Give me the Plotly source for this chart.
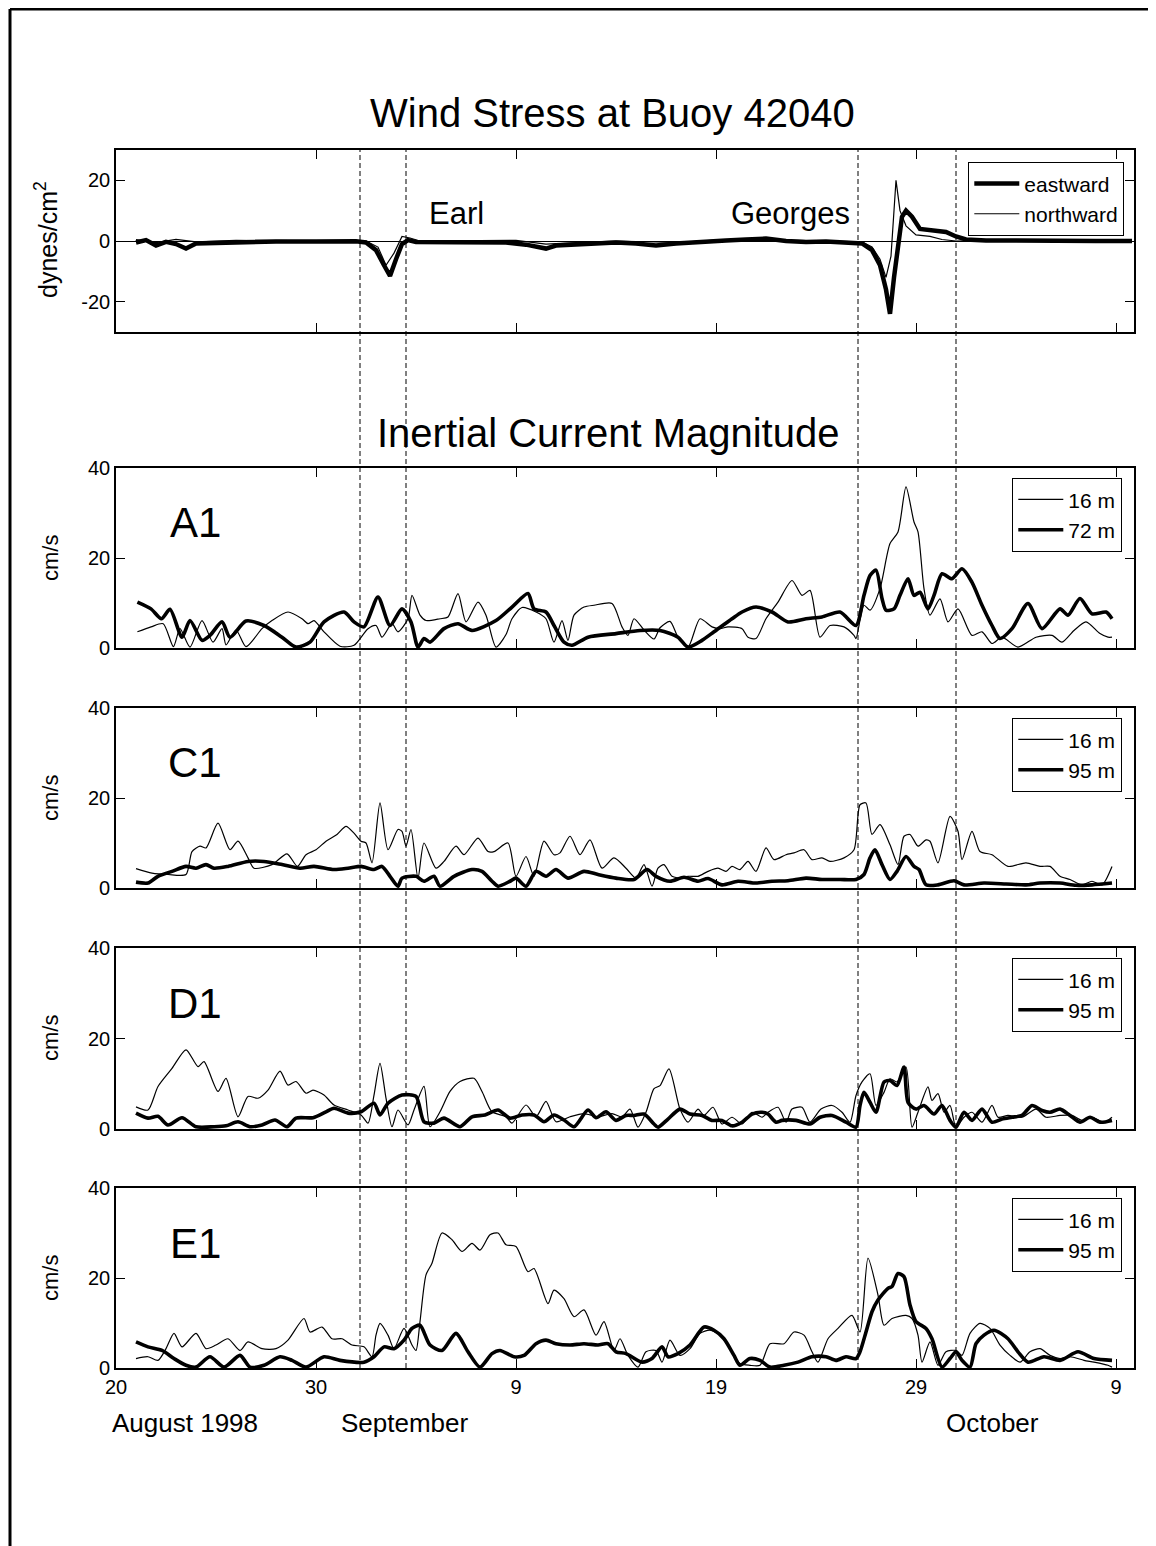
import pandas as pd
import plotly.graph_objects as go
from plotly.subplots import make_subplots

START = pd.Timestamp("1998-08-20")

# wind stress at buoy 42040 (dynes/cm2), time in days since Aug 20
wind_days = [1.0, 1.5, 2.0, 2.5, 3.0, 3.5, 4.0, 5.0, 6.0, 8.0, 10.0, 12.0, 12.5, 13.0, 13.4, 13.7, 14.0,
             14.3, 14.6, 15.0, 17.0, 18.5, 19.5, 20.5, 21.5, 22.0, 23.0, 24.0, 25.0, 26.0, 27.0, 28.0,
             29.0, 30.5, 31.5, 32.5, 33.5, 34.5, 35.5, 36.5, 37.3, 37.8, 38.2, 38.5, 38.7, 38.9, 39.1,
             39.3, 39.5, 39.8, 40.2, 40.8, 41.5, 42.0, 42.5, 43.5, 45.0, 47.0, 49.0, 50.8]
eastward = [-0.5, 0.3, -1.5, -0.3, -1.0, -2.5, -0.8, -0.6, -0.4, -0.2, -0.2, -0.1, -0.5, -3.0, -8.0,
            -11.5, -6.0, -1.0, 0.3, -0.3, -0.4, -0.6, -0.5, -1.2, -2.5, -1.5, -1.2, -1.0, -0.5, -0.8,
            -1.5, -0.8, -0.3, 0.2, 0.5, 0.8, 0.0, -0.3, -0.2, -0.6, -0.8, -3.0, -8.0, -16.0, -24.0,
            -12.0, -2.0, 8.0, 10.0, 8.0, 4.0, 3.5, 3.0, 1.5, 0.5, 0.2, 0.0, 0.1, 0.0, 0.0]

north_days = [1.0, 2.0, 3.0, 4.0, 6.0, 10.0, 12.5, 13.1, 13.5, 13.9, 14.3, 14.7, 15.2, 20.0, 21.5, 23.0,
              25.0, 28.0, 30.0, 32.0, 35.0, 37.3, 37.8, 38.2, 38.5, 38.75, 39.0, 39.2, 39.5, 40.0,
              40.7, 41.3, 42.0, 45.0, 50.8]
northward = [0.5, -0.5, 0.5, -0.3, 0.2, 0.0, 0.0, -2.0, -8.0, -4.0, 1.5, 1.0, 0.0, 0.2, -1.0, -0.5,
             0.0, -0.5, 0.3, 0.5, 0.0, -0.3, -2.0, -6.0, -12.0, -5.0, 20.0, 10.0, 5.0, 2.0, 1.5, 0.5,
             0.0, 0.2, 0.0]

# inertial current magnitude (cm/s)
a1_16_days = [1.07, 1.75, 2.36, 2.87, 3.2, 3.7, 4.3, 4.85, 5.3, 5.5, 6.0, 6.5, 7.3, 7.8, 8.6, 9.3, 9.6,
              9.9, 10.4, 11.2, 11.9, 12.6, 13.0, 13.3, 13.8, 14.1, 14.6, 14.8, 15.2, 15.5, 16.2, 16.6,
              17.1, 17.5, 18.1, 18.5, 19.0, 19.5, 19.8, 20.3, 21.0, 21.5, 21.9, 22.3, 22.6, 22.9, 23.4,
              23.9, 24.8, 25.3, 25.6, 25.9, 26.4, 26.9, 27.2, 27.7, 28.1, 28.6, 29.2, 29.8, 30.2, 30.6,
              31.3, 31.6, 32.0, 32.5, 33.1, 33.8, 34.3, 34.7, 35.2, 35.7, 36.4, 36.9, 37.0, 37.4, 37.7,
              38.2, 38.7, 39.1, 39.5, 39.9, 40.1, 40.4, 40.7, 41.2, 41.6, 42.1, 42.8, 43.3, 43.8, 44.3,
              45.1, 46.0, 46.8, 47.3, 47.9, 48.5, 49.2, 49.6, 49.8]
a1_16 = [3.6, 4.7, 5.4, 0.3, 4.3, 0.2, 6.1, 1.3, 4.3, 0.7, 4.0, 0.3, 4.3, 6.1, 8.0, 6.5, 5.4, 6.1, 3.6,
         0.4, 0.6, 4.3, 5.0, 2.4, 5.4, 3.6, 6.5, 11.7, 7.3, 6.1, 6.5, 6.9, 12.1, 5.8, 10.2, 7.3, 0.2,
         3.0, 6.5, 9.0, 8.0, 6.5, 1.3, 6.1, 1.7, 7.3, 9.1, 9.5, 9.9, 4.7, 2.8, 6.5, 4.0, 2.0, 4.5, 5.9,
         2.4, 0.2, 6.5, 4.7, 4.3, 4.7, 4.3, 2.4, 2.1, 6.5, 10.2, 15.0, 11.7, 12.8, 2.4, 5.0, 4.7, 2.8,
         2.1, 9.5, 8.4, 13.2, 23.2, 25.8, 35.8, 28.0, 25.8, 13.2, 7.3, 10.9, 5.8, 8.7, 2.8, 3.6, 1.0,
         2.4, 0.2, 2.4, 2.8, 1.3, 3.9, 5.8, 3.2, 2.4, 2.4]

a1_72_days = [1.07, 1.75, 2.27, 2.7, 3.3, 3.7, 4.3, 4.7, 5.3, 5.7, 6.5, 7.4, 8.3, 9.0, 9.7, 10.4, 11.4,
              11.9, 12.4, 13.1, 13.7, 14.3, 14.75, 15.1, 15.4, 15.7, 16.4, 17.1, 17.8, 19.0, 19.8,
              20.6, 20.9, 21.5, 21.9, 22.4, 22.8, 23.6, 25.0, 26.2, 27.2, 28.1, 28.6, 29.3, 29.9, 30.8,
              31.3, 32.0, 32.8, 33.6, 34.5, 35.3, 36.2, 37.0, 37.4, 37.7, 38.0, 38.3, 38.5, 38.9, 39.2,
              39.6, 39.9, 40.2, 40.6, 40.9, 41.3, 41.8, 42.3, 42.8, 43.3, 43.8, 44.2, 44.8, 45.6, 46.3,
              47.2, 47.6, 48.2, 48.8, 49.5, 49.8]
a1_72 = [10.2, 8.7, 6.5, 8.6, 2.4, 6.1, 1.7, 2.8, 5.8, 2.4, 6.0, 5.0, 2.4, 0.2, 1.3, 5.8, 8.0, 5.8, 4.7,
         11.3, 5.0, 8.7, 5.8, 0.2, 2.1, 1.3, 4.3, 5.4, 3.9, 6.1, 9.1, 12.1, 8.7, 8.0, 5.0, 1.3, 0.6,
         2.4, 3.2, 3.9, 3.9, 2.4, 0.2, 1.7, 3.6, 6.5, 8.0, 9.1, 8.0, 5.8, 6.5, 6.9, 8.0, 5.0, 11.7,
         16.1, 17.3, 11.0, 8.4, 8.7, 11.7, 15.4, 11.7, 12.4, 8.7, 11.7, 16.5, 15.4, 17.6, 14.6, 9.5,
         5.0, 2.1, 4.3, 9.9, 4.3, 8.7, 7.3, 11.0, 7.6, 8.0, 6.5]

c1_16_days = [1.0, 1.8, 2.6, 3.5, 3.8, 4.2, 4.5, 5.1, 5.7, 6.1, 6.6, 6.9, 7.8, 8.55, 9.07, 9.5, 10.0,
              10.5, 11.05, 11.5, 11.9, 12.25, 12.5, 12.8, 13.2, 13.6, 14.1, 14.3, 14.5, 14.75, 15.1,
              15.4, 16.0, 16.4, 17.0, 17.4, 18.1, 18.6, 18.9, 19.6, 20.0, 20.5, 20.9, 21.4, 21.9, 22.2,
              22.7, 23.2, 23.7, 24.3, 24.9, 25.5, 26.0, 26.4, 26.8, 27.1, 27.4, 27.8, 28.3, 28.6, 29.1,
              29.6, 30.1, 30.5, 30.8, 31.2, 31.6, 32.0, 32.5, 32.9, 33.5, 33.9, 34.4, 34.8, 35.3, 35.7,
              36.4, 36.9, 37.2, 37.5, 37.8, 38.2, 38.7, 39.1, 39.4, 39.7, 40.1, 40.5, 40.7, 41.1, 41.7,
              42.1, 42.3, 42.8, 43.2, 43.8, 44.6, 45.5, 46.2, 46.7, 47.2, 47.7, 48.3, 48.8, 49.3, 49.8]
c1_16 = [4.3, 3.3, 3.0, 3.0, 8.1, 9.3, 8.9, 14.4, 8.5, 10.4, 6.7, 4.4, 5.2, 7.6, 4.8, 7.4, 8.5, 10.4,
         11.9, 13.7, 12.2, 10.4, 10.0, 5.6, 18.9, 8.5, 13.0, 12.6, 9.3, 13.0, 2.2, 10.0, 4.4, 5.9, 9.3,
         7.4, 11.1, 8.1, 8.1, 10.0, 2.6, 7.0, 2.6, 10.4, 7.4, 7.8, 11.5, 7.4, 10.7, 4.4, 6.7, 4.4, 2.2,
         5.2, 0.4, 4.4, 5.2, 2.6, 2.2, 2.6, 2.6, 3.7, 4.4, 3.7, 4.8, 4.1, 5.9, 3.7, 8.9, 6.3, 7.4, 7.8,
         8.5, 6.3, 6.7, 5.9, 6.7, 8.5, 18.5, 18.9, 11.9, 14.1, 9.6, 5.2, 11.5, 11.9, 9.3, 10.7, 10.4,
         5.6, 15.9, 12.6, 6.3, 12.6, 8.1, 7.4, 4.8, 5.6, 4.8, 4.8, 2.6, 1.9, 0.7, 1.5, 0.7, 4.8]

c1_95_days = [1.0, 1.6, 2.1, 2.8, 3.5, 4.0, 4.5, 4.9, 5.6, 6.6, 7.4, 8.3, 9.2, 9.9, 10.9, 11.6, 12.25,
              12.9, 13.3, 13.7, 14.1, 14.3, 15.0, 15.4, 15.9, 16.2, 16.9, 17.8, 18.3, 18.8, 19.1, 19.7,
              20.0, 20.5, 21.0, 21.5, 22.0, 22.6, 23.4, 24.1, 25.0, 25.9, 26.55, 27.0, 27.7, 28.4, 29.1,
              29.6, 30.3, 31.1, 32.0, 32.8, 33.6, 34.5, 35.3, 36.2, 37.0, 37.4, 37.7, 37.95, 38.3, 38.7,
              39.05, 39.5, 39.9, 40.15, 40.5, 41.1, 41.9, 42.4, 43.4, 44.5, 45.5, 46.2, 47.2, 48.0, 48.8,
              49.8]
c1_95 = [1.3, 1.1, 2.6, 3.7, 4.8, 4.4, 5.2, 4.4, 4.8, 5.9, 5.9, 5.2, 4.4, 4.8, 4.1, 4.4, 4.8, 4.1, 4.8,
         2.6, 0.4, 2.2, 2.6, 1.5, 2.6, 0.4, 2.6, 4.1, 3.7, 1.5, 0.4, 1.5, 2.2, 0.4, 3.7, 2.6, 4.1, 2.2,
         3.7, 3.0, 2.2, 1.9, 4.1, 2.6, 1.5, 2.4, 1.5, 2.1, 0.7, 1.5, 1.1, 1.5, 1.6, 2.2, 1.9, 1.9, 1.9,
         3.0, 6.7, 8.5, 5.2, 1.9, 3.7, 7.0, 4.8, 4.1, 0.7, 0.7, 1.6, 0.7, 1.1, 0.9, 0.7, 1.1, 1.1, 0.6,
         0.7, 1.1]

d1_16_days = [1.0, 1.6, 2.1, 2.8, 3.5, 4.1, 4.4, 5.1, 5.5, 6.1, 6.6, 7.1, 7.6, 8.2, 8.6, 9.0, 9.5, 9.85,
              10.4, 10.9, 11.6, 12.25, 12.6, 12.9, 13.2, 13.5, 13.8, 14.1, 14.6, 14.9, 15.4, 15.7, 16.2,
              16.7, 17.2, 17.9, 18.3, 18.8, 19.5, 19.8, 20.5, 21.0, 21.5, 22.0, 22.7, 23.4, 24.1, 24.8,
              25.3, 25.7, 26.1, 26.5, 26.9, 27.2, 27.65, 28.2, 28.6, 29.1, 29.4, 29.85, 30.3, 30.8, 31.3,
              31.8, 32.3, 32.6, 33.1, 33.5, 33.8, 34.3, 34.7, 35.25, 35.8, 36.3, 36.7, 37.0, 37.3, 37.7,
              38.0, 38.4, 38.7, 39.05, 39.5, 39.8, 40.1, 40.6, 40.8, 41.1, 41.4, 41.7, 42.0, 42.4, 42.8,
              43.3, 43.8, 44.1, 44.6, 45.3, 46.0, 46.5, 47.2, 47.8, 48.3, 48.8, 49.4, 49.8]
d1_16 = [4.9, 4.2, 9.4, 13.4, 17.5, 13.8, 14.9, 8.3, 11.2, 2.7, 7.2, 6.8, 8.6, 12.8, 9.7, 10.5, 7.9,
         8.6, 7.5, 5.3, 4.2, 3.1, 1.3, 7.5, 14.5, 6.8, 0.5, 4.2, 0.9, 4.2, 9.4, 0.5, 3.8, 8.3, 10.5,
         11.2, 8.3, 3.8, 2.7, 1.3, 5.3, 2.7, 6.1, 1.6, 2.7, 3.4, 2.7, 3.4, 2.7, 4.4, 0.4, 3.7, 8.9, 9.6,
         13.3, 4.4, 1.5, 4.4, 3.0, 4.8, 1.1, 2.6, 1.1, 3.7, 2.6, 3.7, 4.8, 1.5, 4.4, 4.8, 1.5, 4.4, 5.2,
         3.7, 1.5, 7.4, 10.4, 12.2, 5.2, 8.1, 11.1, 10.4, 13.7, 0.4, 3.7, 9.3, 6.3, 7.8, 3.7, 5.2, 0.4,
         2.6, 3.7, 1.5, 5.2, 2.6, 3.0, 2.6, 4.4, 2.6, 3.0, 3.0, 1.9, 2.6, 1.5, 2.6]

d1_95_days = [1.0, 1.6, 2.1, 2.6, 3.3, 4.0, 4.9, 5.5, 6.1, 6.7, 7.3, 7.95, 8.55, 9.0, 9.85, 10.5, 10.9,
              11.6, 12.25, 12.9, 13.2, 13.6, 14.3, 15.0, 15.4, 15.9, 16.4, 17.2, 17.8, 18.45, 19.1,
              19.7, 20.3, 20.9, 21.4, 21.9, 22.4, 22.9, 23.6, 24.0, 24.5, 25.0, 25.5, 25.9, 26.4, 26.9,
              27.1, 27.6, 28.2, 28.7, 29.3, 29.8, 30.3, 30.8, 31.3, 31.8, 32.3, 32.6, 33.0, 33.3, 34.0,
              34.7, 35.2, 35.8, 36.5, 37.0, 37.2, 37.4, 37.7, 38.0, 38.4, 38.7, 39.05, 39.4, 39.6, 40.0,
              40.4, 40.9, 41.3, 41.7, 42.0, 42.4, 42.8, 43.3, 43.8, 44.3, 44.8, 45.3, 45.8, 46.3, 46.7,
              47.2, 47.7, 48.2, 48.7, 49.2, 49.8]
d1_95 = [3.5, 2.4, 2.8, 0.9, 2.5, 0.5, 0.5, 0.7, 1.6, 0.5, 0.9, 2.0, 0.5, 2.4, 2.5, 3.8, 4.6, 3.5, 3.8,
         5.7, 3.1, 5.7, 7.5, 7.2, 1.6, 1.3, 2.4, 0.5, 2.7, 3.1, 4.2, 2.4, 3.1, 3.1, 1.6, 3.1, 2.0, 0.5,
         4.2, 2.5, 3.8, 1.9, 3.0, 3.0, 3.3, 1.1, 0.4, 2.2, 4.4, 3.3, 3.0, 1.9, 1.9, 0.7, 1.5, 3.3, 3.7,
         3.3, 1.5, 1.9, 1.9, 1.1, 2.6, 3.0, 1.5, 0.4, 5.2, 8.1, 5.9, 3.7, 10.4, 10.7, 9.6, 13.7, 5.9,
         4.4, 5.2, 3.3, 5.2, 1.9, 0.4, 3.7, 1.9, 4.4, 1.5, 2.2, 2.6, 3.0, 5.2, 4.1, 3.7, 4.4, 3.0, 1.5,
         2.6, 1.5, 1.9]

e1_16_days = [1.0, 1.6, 2.1, 2.5, 2.9, 3.3, 4.0, 4.5, 5.0, 5.6, 6.2, 6.6, 7.3, 8.0, 8.6, 9.4, 9.7, 10.3,
              10.8, 11.3, 11.8, 12.4, 12.8, 13.0, 13.2, 13.6, 13.9, 14.4, 14.8, 15.0, 15.2, 15.5, 15.8,
              16.3, 16.8, 17.3, 17.8, 18.2, 18.7, 19.1, 19.5, 20.0, 20.6, 20.9, 21.6, 21.9, 22.4, 22.9,
              23.4, 24.0, 24.4, 24.9, 25.2, 25.6, 26.1, 26.5, 27.0, 27.3, 27.7, 28.2, 28.7, 29.2, 29.7,
              30.2, 30.7, 31.2, 31.7, 32.2, 32.7, 33.4, 33.9, 34.4, 34.8, 35.1, 35.6, 36.1, 36.8, 37.2,
              37.6, 38.1, 38.4, 38.8, 39.5, 39.8, 40.1, 40.3, 40.7, 41.1, 41.5, 42.0, 42.3, 42.7, 43.2,
              43.7, 44.2, 44.7, 45.2, 45.7, 46.2, 46.7, 47.2, 47.7, 48.4, 48.9, 49.6, 49.8]
e1_16 = [2.1, 2.5, 1.7, 4.3, 7.7, 4.7, 7.7, 4.3, 5.1, 6.5, 3.9, 5.8, 4.3, 4.3, 6.2, 11.0, 8.0, 9.1, 6.5,
         6.5, 5.1, 4.7, 2.5, 7.3, 9.9, 7.3, 4.3, 8.8, 5.1, 3.9, 10.3, 20.7, 23.3, 30.0, 28.5, 25.9, 27.7,
         26.2, 29.6, 30.0, 27.4, 27.0, 21.4, 22.1, 14.3, 17.3, 15.4, 11.4, 12.9, 7.3, 10.3, 3.9, 6.5,
         2.8, 0.2, 3.6, 3.9, 1.3, 6.2, 2.8, 4.3, 7.7, 8.4, 7.3, 4.3, 1.0, 0.6, 0.6, 5.4, 5.4, 8.0, 7.3,
         3.6, 1.3, 6.5, 8.8, 11.7, 8.0, 24.4, 16.2, 9.5, 11.0, 11.7, 11.0, 7.3, 1.3, 5.8, 0.6, 3.6, 3.9,
         2.8, 7.7, 9.9, 8.8, 5.1, 2.8, 1.3, 3.6, 4.3, 2.8, 2.1, 2.5, 1.7, 1.3, 0.6, 0.2]

e1_95_days = [1.0, 1.6, 2.3, 2.9, 3.5, 4.0, 4.7, 5.4, 6.2, 6.7, 7.4, 8.2, 8.8, 9.5, 10.4, 11.2, 12.4,
              12.9, 13.4, 13.9, 14.4, 14.8, 15.2, 15.7, 16.3, 17.0, 17.6, 18.2, 18.8, 19.2, 19.9, 20.4,
              21.0, 21.5, 22.0, 22.7, 23.4, 24.1, 24.6, 25.0, 25.5, 26.3, 26.8, 27.3, 27.6, 28.1, 28.7,
              29.4, 29.9, 30.4, 30.9, 31.2, 31.7, 32.2, 32.7, 33.4, 34.1, 34.8, 35.5, 36.0, 36.5, 37.0,
              37.2, 37.5, 37.8, 38.1, 38.6, 38.8, 39.1, 39.4, 39.7, 40.0, 40.5, 40.8, 41.3, 41.7, 42.0,
              42.3, 42.7, 43.0, 43.4, 43.9, 44.6, 45.1, 45.6, 46.4, 47.2, 48.1, 48.9, 49.8]
e1_95 = [5.8, 4.7, 3.9, 2.1, 0.6, 0.2, 2.5, 0.2, 2.8, 0.2, 0.6, 2.5, 1.7, 0.2, 2.5, 1.7, 1.3, 2.5, 4.7,
         4.3, 6.2, 8.8, 9.5, 5.1, 3.9, 7.7, 3.6, 0.2, 3.2, 3.9, 2.5, 2.8, 5.4, 6.2, 5.4, 5.1, 5.4, 5.1,
         5.4, 3.6, 3.2, 1.3, 2.1, 4.7, 2.5, 3.2, 5.1, 9.1, 8.4, 6.5, 2.8, 0.6, 2.1, 1.7, 0.2, 0.6, 1.3,
         2.5, 2.5, 1.7, 2.5, 2.1, 3.6, 8.0, 12.5, 15.1, 17.7, 18.1, 21.0, 20.3, 14.0, 10.3, 8.8, 6.5,
         0.2, 2.1, 3.6, 1.7, 0.2, 5.4, 7.3, 8.4, 6.5, 3.6, 1.3, 2.5, 1.7, 3.6, 2.1, 1.7]

storm_days = [12.2, 14.5, 37.1, 42.0]  # dashed markers, Earl and Georges
tick_days = [0, 10, 20, 30, 40, 50]
tick_text = ["20", "30", "9", "19", "29", "9"]


def to_dates(days):
    return START + pd.to_timedelta(days, unit="D")


FONT = "Liberation Sans, Arial, sans-serif"
THIN = 1.2
THICK = 3.6
OFF = 8  # page margin of the html body

fig = make_subplots(rows=5, cols=1, shared_xaxes=True)

fig.add_trace(go.Scatter(x=to_dates(wind_days), y=eastward, mode="lines", name="eastward",
                         line=dict(color="black", width=4.5), legend="legend"), row=1, col=1)
fig.add_trace(go.Scatter(x=to_dates(north_days), y=northward, mode="lines", name="northward",
                         line=dict(color="black", width=THIN), legend="legend"), row=1, col=1)

panels = [
    ("A1", "72 m", a1_16_days, a1_16, a1_72_days, a1_72),
    ("C1", "95 m", c1_16_days, c1_16, c1_95_days, c1_95),
    ("D1", "95 m", d1_16_days, d1_16, d1_95_days, d1_95),
    ("E1", "95 m", e1_16_days, e1_16, e1_95_days, e1_95),
]
for i, (label, deep, sd, sv, dd, dv) in enumerate(panels):
    leg = "legend%d" % (i + 2)
    fig.add_trace(go.Scatter(x=to_dates(sd), y=sv, mode="lines", name="16 m",
                             line=dict(color="black", width=THIN, shape="spline", smoothing=0.7),
                             legend=leg), row=i + 2, col=1)
    fig.add_trace(go.Scatter(x=to_dates(dd), y=dv, mode="lines", name=deep,
                             line=dict(color="black", width=THICK, shape="spline", smoothing=0.7),
                             legend=leg), row=i + 2, col=1)

# panel placement (page pixels -> paper)
H_TOP, H_BOT = 150, 1368
def py(v):
    return (H_BOT - v) / (H_BOT - H_TOP)

def px_x(v):
    return (v - 116) / 1018

domains = [(332, 150), (648, 468), (888, 708), (1129, 948), (1368, 1188)]

axis_common = dict(showline=True, linecolor="black", linewidth=1.6, mirror="ticks", ticks="inside",
                   ticklen=9, tickwidth=1.3, tickcolor="black", showgrid=False,
                   tickfont=dict(family=FONT, size=20, color="black"))

for i, (b, t) in enumerate(domains):
    n = "" if i == 0 else str(i + 1)
    fig.layout["yaxis" + n].update(domain=[py(b), py(t)], **axis_common)
    fig.layout["xaxis" + n].update(
        range=[START, START + pd.Timedelta(days=50.9)],
        tickvals=to_dates(tick_days), ticktext=tick_text,
        showticklabels=(i == 4), **axis_common)

fig.layout.yaxis.update(range=[-30, 30], tickvals=[-20, 0, 20], ticktext=["-20", "0", "20"],
                        zeroline=True, zerolinecolor="black", zerolinewidth=1)
for n in ["2", "3", "4", "5"]:
    fig.layout["yaxis" + n].update(range=[0, 40], tickvals=[0, 20, 40], zeroline=False)

# dashed storm lines through all panels
for d in storm_days:
    fig.add_shape(type="line", xref="x5", yref="paper", x0=to_dates([d])[0], x1=to_dates([d])[0],
                  y0=0, y1=1, line=dict(color="black", width=1, dash="5px,3px"))

# page frame
fig.add_shape(type="line", xref="paper", yref="paper", x0=px_x(10), x1=px_x(10), y0=py(9), y1=py(1546),
              line=dict(color="black", width=3))
fig.add_shape(type="line", xref="paper", yref="paper", x0=px_x(10), x1=px_x(1156), y0=py(9), y1=py(9),
              line=dict(color="black", width=3))

ann = []
def text(x, y, s, size, **kw):
    ann.append(dict(x=px_x(x), y=py(y), xref="paper", yref="paper", text=s, showarrow=False,
                    xanchor="center", yanchor="middle",
                    font=dict(family=FONT, size=size, color="black"), **kw))

text(612, 113, "Wind Stress at Buoy 42040", 40)
text(608, 433, "Inertial Current Magnitude", 40)
text(456, 213, "Earl", 31)
text(790, 213, "Georges", 31)
text(46, 240, "dynes/cm<sup>2</sup>", 25, textangle=-90)
for (lab, *_), yc, yl in zip(panels, [558, 798, 1038, 1278], [522, 762, 1003, 1243]):
    text(50, yc, "cm/s", 22, textangle=-90)
    text(195, yl, lab, 42)
text(185, 1423, "August 1998", 26)
text(405, 1423, "September", 26)
text(992, 1423, "October", 26)

legend_style = dict(xanchor="right", yanchor="top", bordercolor="black", borderwidth=1.3,
                    bgcolor="white", font=dict(family=FONT, size=21, color="black"),
                    tracegroupgap=0, itemwidth=45)
fig.update_layout(
    width=1156 - OFF, height=1546 - OFF,
    margin=dict(l=116 - OFF, r=1156 - 1134, t=150 - OFF, b=1546 - 1368),
    paper_bgcolor="white", plot_bgcolor="white",
    annotations=ann,
    showlegend=True,
    legend=dict(x=px_x(1124), y=py(162), **legend_style),
    legend2=dict(x=px_x(1122), y=py(478), **legend_style),
    legend3=dict(x=px_x(1122), y=py(718), **legend_style),
    legend4=dict(x=px_x(1122), y=py(958), **legend_style),
    legend5=dict(x=px_x(1122), y=py(1198), **legend_style),
)

fig.write_html("out.html")
